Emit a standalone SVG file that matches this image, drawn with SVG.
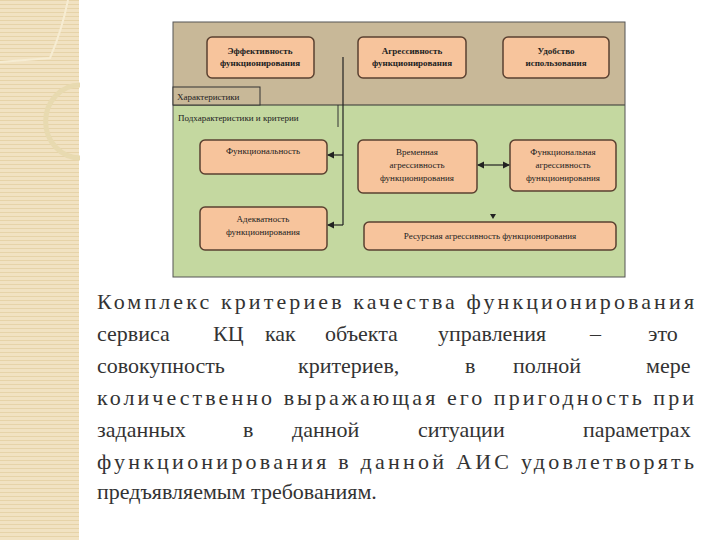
<svg xmlns="http://www.w3.org/2000/svg" width="720" height="540" viewBox="0 0 720 540">
<defs>
<style>
.b{fill:#f7c49c;stroke:#5a4030;stroke-width:1.5}
.c{stroke:#222;stroke-width:1.2;fill:none}
</style>
<pattern id="stripe" width="6" height="4" patternUnits="userSpaceOnUse">
<rect width="6" height="4" fill="#f1e2c2"/><rect width="6" height="1" fill="#e6d3a8"/>
</pattern>
<marker id="a" markerWidth="6" markerHeight="6" refX="5" refY="3" orient="auto-start-reverse"><path d="M0,0L6,3L0,6z" fill="#222"/></marker>
</defs>
<rect width="720" height="540" fill="#fff"/>
<g id="sidebar">
<rect width="79" height="540" fill="url(#stripe)"/>
<path d="M0,62 L50,58 Q62,30 68,0" fill="none" stroke="#f6ecd2" stroke-width="2"/>
<path d="M80,158 A32,34 0 1 1 80,85" fill="none" stroke="#e8dab0" stroke-width="5"/>
</g>
<g id="frame">
<rect x="173" y="22" width="452" height="83" fill="#c8b898"/>
<rect x="173" y="105" width="452" height="172" fill="#c4d8a0"/>
<line x1="173" y1="105" x2="625" y2="105" stroke="#333"/>
<rect x="173" y="22" width="452" height="255" fill="none" stroke="#555"/>
</g>
<g font-family="Liberation Serif, DejaVu Serif, serif" font-size="9" fill="#222">
<g id="n-char"><rect x="173" y="87" width="87" height="18" fill="#c8b898" stroke="#333"/><text x="177" y="100">Характеристики</text></g>
<g id="n-sub"><text x="178" y="121">Подхарактеристики и критерии</text><line x1="338" y1="105" x2="338" y2="127" stroke="#333"/></g>
<g text-anchor="middle">
<g id="n1" font-weight="bold"><rect class="b" x="207" y="37" width="107" height="41" rx="5"/><text x="260" y="54">Эффективность</text><text x="260" y="66">функционирования</text></g>
<g id="n2" font-weight="bold"><rect class="b" x="358" y="37" width="108" height="41" rx="5"/><text x="412" y="54">Агрессивность</text><text x="412" y="66">функционирования</text></g>
<g id="n3" font-weight="bold"><rect class="b" x="503" y="37" width="106" height="41" rx="5"/><text x="556" y="54">Удобство</text><text x="556" y="66">использования</text></g>
<g id="n4"><rect class="b" x="200" y="140" width="127" height="34" rx="5"/><text x="263" y="154">Функциональность</text></g>
<g id="n5"><rect class="b" x="200" y="207" width="127" height="43" rx="5"/><text x="263" y="222">Адекватность</text><text x="263" y="235">функционирования</text></g>
<g id="n6"><rect class="b" x="358" y="140" width="119" height="53" rx="5"/><text x="417" y="155">Временная</text><text x="417" y="168">агрессивность</text><text x="417" y="181">функционирования</text></g>
<g id="n7"><rect class="b" x="510" y="140" width="106" height="51" rx="5"/><text x="563" y="155">Функциональная</text><text x="563" y="168">агрессивность</text><text x="563" y="181">функционирования</text></g>
<g id="n8"><rect class="b" x="364" y="222" width="252" height="28" rx="5"/><text x="490" y="239">Ресурсная агрессивность функционирования</text></g>
</g>
</g>
<g id="connectors">
<path class="c" d="M343,57 V225"/>
<path class="c" d="M343,155 H328" marker-end="url(#a)"/>
<path class="c" d="M343,225 H328" marker-end="url(#a)"/>
<path class="c" d="M478,165 H509" marker-start="url(#a)" marker-end="url(#a)"/>
<path d="M490,214 L496,214 L493,219z" fill="#222"/>
</g>
<g id="para" font-family="Liberation Serif, DejaVu Serif, serif" font-size="22" fill="#333">
<text x="97" y="309" textLength="597" lengthAdjust="spacing">Комплекс критериев качества функционирования</text>
<text y="341"><tspan x="97">сервиса</tspan><tspan x="213">КЦ</tspan><tspan x="265">как</tspan><tspan x="325">объекта</tspan><tspan x="438">управления</tspan><tspan x="590">–</tspan><tspan x="648">это</tspan></text>
<text y="373"><tspan x="97">совокупность</tspan><tspan x="298">критериев,</tspan><tspan x="465">в</tspan><tspan x="513">полной</tspan><tspan x="646">мере</tspan></text>
<text x="97" y="405" textLength="597" lengthAdjust="spacing">количественно выражающая его пригодность при</text>
<text y="437"><tspan x="97">заданных</tspan><tspan x="243">в</tspan><tspan x="292">данной</tspan><tspan x="418">ситуации</tspan><tspan x="583">параметрах</tspan></text>
<text x="97" y="469" textLength="597" lengthAdjust="spacing">функционирования в данной АИС удовлетворять</text>
<text x="97" y="499">предъявляемым требованиям.</text>
</g>
</svg>
